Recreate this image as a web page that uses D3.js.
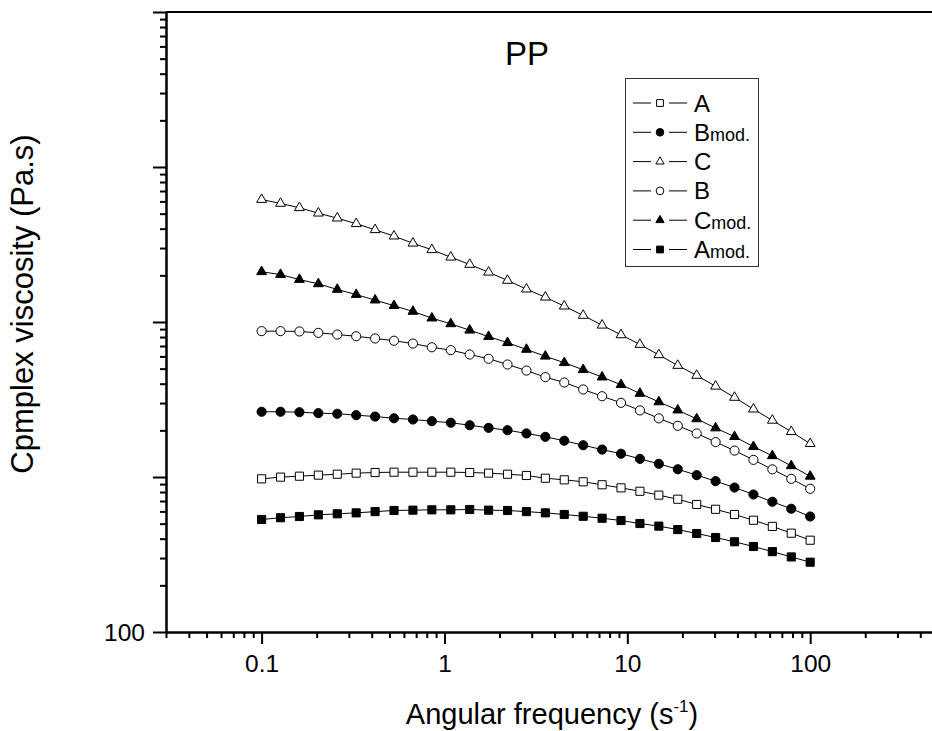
<!DOCTYPE html>
<html lang="en">
<head>
    <meta charset="UTF-8">
    <title>PP - complex viscosity vs angular frequency</title>
    <style>
        body {
            margin: 0;
            background-color: #fff;
        }
        svg {
            display: block;
            font-family: "Liberation Sans", Arial, sans-serif;
        }
        .axis path, .axis line {
            stroke: #000;
            stroke-width: 2px;
        }
        .series-line {
            fill: none;
            stroke: #000;
            stroke-width: 1px;
        }
    </style>
</head>
<body>
    <svg id="chart" width="932" height="731"></svg>
    <script src="https://d3js.org/d3.v7.min.js"></script>
    <script>
        // angular frequency (s^-1)
        const freq = [0.1, 0.1269, 0.161, 0.2043, 0.2593, 0.329, 0.4175, 0.5298, 0.6723, 0.8532,
            1.083, 1.374, 1.743, 2.212, 2.807, 3.562, 4.52, 5.736, 7.279, 9.237,
            11.72, 14.87, 18.87, 23.95, 30.39, 38.57, 48.94, 62.1, 78.8, 100];

        // complex viscosity (Pa.s)
        const etaA = [973, 998, 1012, 1028, 1042, 1059, 1069, 1074, 1074, 1074, 1074, 1069, 1059, 1042, 1023,
            982, 959, 931, 891, 851, 809, 764, 719, 665, 619, 573, 526, 480, 434, 391];
        const etaBmod = [2636, 2636, 2618, 2582, 2559, 2506, 2455, 2393, 2350, 2291, 2239, 2158, 2075, 2004, 1910,
            1816, 1714, 1603, 1503, 1413, 1309, 1216, 1122, 1028, 940, 855, 771, 692, 624, 556];
        const etaC = [61660, 58210, 54580, 50350, 46770, 43050, 39360, 35810, 32210, 29240, 26180, 23500, 20940, 18530, 16290,
            14450, 12650, 11020, 9530, 8260, 7160, 6140, 5240, 4520, 3850, 3260, 2740, 2320, 1960, 1640];
        const etaB = [8730, 8730, 8690, 8510, 8300, 8090, 7830, 7570, 7260, 6870, 6580, 6170, 5790, 5320, 4860,
            4410, 4070, 3670, 3320, 3010, 2690, 2390, 2140, 1910, 1680, 1480, 1290, 1120, 973, 839];
        const etaCmod = [21090, 20230, 18790, 17620, 16220, 15030, 13840, 12740, 11700, 10590, 9730, 8850, 8050, 7350, 6650,
            6010, 5460, 4920, 4410, 3940, 3460, 3050, 2700, 2370, 2070, 1820, 1570, 1370, 1180, 1010];
        const etaAmod = [532, 546, 556, 570, 579, 587, 598, 608, 611, 614, 614, 617, 611, 608, 598,
            587, 573, 558, 542, 524, 501, 482, 458, 432, 407, 382, 356, 330, 305, 282];

        const xTickValues = [0.1, 1, 10, 100];
        const xTickLabels = ["0.1", "1", "10", "100"];
        const yTickValues = [100, 1000, 10000, 100000, 1000000];
        const yTickLabels = ["100", "", "", "", ""];

        // legend order as in the figure
        const series = [
            { name: "A", sub: "", values: etaA, symbol: d3.symbolSquare, filled: false },
            { name: "B", sub: "mod.", values: etaBmod, symbol: d3.symbolCircle, filled: true },
            { name: "C", sub: "", values: etaC, symbol: d3.symbolTriangle, filled: false },
            { name: "B", sub: "", values: etaB, symbol: d3.symbolCircle, filled: false },
            { name: "C", sub: "mod.", values: etaCmod, symbol: d3.symbolTriangle, filled: true },
            { name: "A", sub: "mod.", values: etaAmod, symbol: d3.symbolSquare, filled: true }
        ];

        const plot = { left: 166, right: 938, top: 12, bottom: 632 };

        const svg = d3.select("#chart");

        const x = d3.scaleLog().domain([0.03, 500]).range([plot.left, plot.right]);
        const y = d3.scaleLog().domain([100, 1e6]).range([plot.bottom, plot.top]);

        // minor ticks 2..9 in each decade
        function minorTicks(lo, hi) {
            const out = [];
            for (let d = Math.pow(10, Math.floor(Math.log10(lo))); d < hi; d *= 10) {
                for (let k = 2; k <= 9; k++) {
                    const v = k * d;
                    if (v >= lo && v <= hi) out.push(v);
                }
            }
            return out;
        }

        // frame: top and right edges
        svg.append("path")
            .attr("d", `M${plot.left},${plot.top}H${plot.right}V${plot.bottom}`)
            .attr("fill", "none")
            .attr("stroke", "#000")
            .attr("stroke-width", 2);

        // X axis
        svg.append("g")
            .attr("class", "axis")
            .attr("transform", `translate(0,${plot.bottom})`)
            .call(d3.axisBottom(x).tickValues(minorTicks(0.03, 500)).tickSize(6).tickSizeOuter(0).tickFormat(""));
        const xAxis = svg.append("g")
            .attr("class", "axis")
            .attr("transform", `translate(0,${plot.bottom})`)
            .call(d3.axisBottom(x).tickValues(xTickValues).tickSize(12).tickSizeOuter(0)
                .tickFormat((d, i) => xTickLabels[i]));
        xAxis.selectAll("text")
            .attr("dy", null)
            .attr("y", 40)
            .attr("font-size", 24.5)
            .attr("font-family", null)
            .attr("fill", "#000");

        // Y axis
        svg.append("g")
            .attr("class", "axis")
            .attr("transform", `translate(${plot.left},0)`)
            .call(d3.axisLeft(y).tickValues(minorTicks(100, 1e6)).tickSize(6).tickSizeOuter(0).tickFormat(""));
        const yAxis = svg.append("g")
            .attr("class", "axis")
            .attr("transform", `translate(${plot.left},0)`)
            .call(d3.axisLeft(y).tickValues(yTickValues).tickSize(13).tickSizeOuter(0)
                .tickFormat((d, i) => yTickLabels[i]));
        yAxis.selectAll("text")
            .attr("x", -21)
            .attr("dy", "0.35em")
            .attr("font-size", 24.5)
            .attr("font-family", null)
            .attr("fill", "#000");

        // series lines and markers
        const line = d3.line()
            .x(d => x(d[0]))
            .y(d => y(d[1]));

        series.forEach(s => {
            const pts = freq.map((f, i) => [f, s.values[i]]);
            const g = svg.append("g");
            g.append("path")
                .datum(pts)
                .attr("class", "series-line")
                .attr("d", line);
            const size = s.symbol === d3.symbolTriangle ? 42 : 66;
            g.selectAll("path.pt")
                .data(pts)
                .join("path")
                .attr("class", "pt")
                .attr("transform", d => `translate(${x(d[0])},${y(d[1])})`)
                .attr("d", d3.symbol(s.symbol, size))
                .attr("fill", s.filled ? "#000" : "#fff")
                .attr("stroke", "#000")
                .attr("stroke-width", 1);
        });

        // title
        svg.append("text")
            .attr("x", 527)
            .attr("y", 65)
            .attr("text-anchor", "middle")
            .attr("font-size", 33)
            .text("PP");

        // legend
        const legend = svg.append("g");
        legend.append("rect")
            .attr("x", 625.5)
            .attr("y", 78.5)
            .attr("width", 133)
            .attr("height", 188)
            .attr("fill", "#fff")
            .attr("stroke", "#333")
            .attr("stroke-width", 1);

        series.forEach((s, i) => {
            const cy = 103 + i * 29.3;
            legend.append("line")
                .attr("x1", 633).attr("x2", 651).attr("y1", cy).attr("y2", cy)
                .attr("stroke", "#000");
            legend.append("line")
                .attr("x1", 669).attr("x2", 687).attr("y1", cy).attr("y2", cy)
                .attr("stroke", "#000");
            legend.append("path")
                .attr("transform", `translate(660,${cy})`)
                .attr("d", d3.symbol(s.symbol, s.symbol === d3.symbolTriangle ? 30 : 46))
                .attr("fill", s.filled ? "#000" : "#fff")
                .attr("stroke", "#000")
                .attr("stroke-width", 1);
            const t = legend.append("text")
                .attr("x", 694)
                .attr("y", cy + 8.5)
                .attr("font-size", 24)
                .text(s.name);
            if (s.sub) {
                t.append("tspan").attr("font-size", 18).text(s.sub);
            }
        });

        // axis titles
        const xt = svg.append("text")
            .attr("x", 552)
            .attr("y", 724)
            .attr("text-anchor", "middle")
            .attr("font-size", 29)
            .text("Angular frequency (s");
        xt.append("tspan").attr("font-size", 17).attr("dy", -12).text("-1");
        xt.append("tspan").attr("dy", 12).text(")");

        svg.append("text")
            .attr("transform", "translate(33,304) rotate(-90)")
            .attr("text-anchor", "middle")
            .attr("font-size", 31)
            .text("Cpmplex viscosity (Pa.s)");
    </script>
</body>
</html>
